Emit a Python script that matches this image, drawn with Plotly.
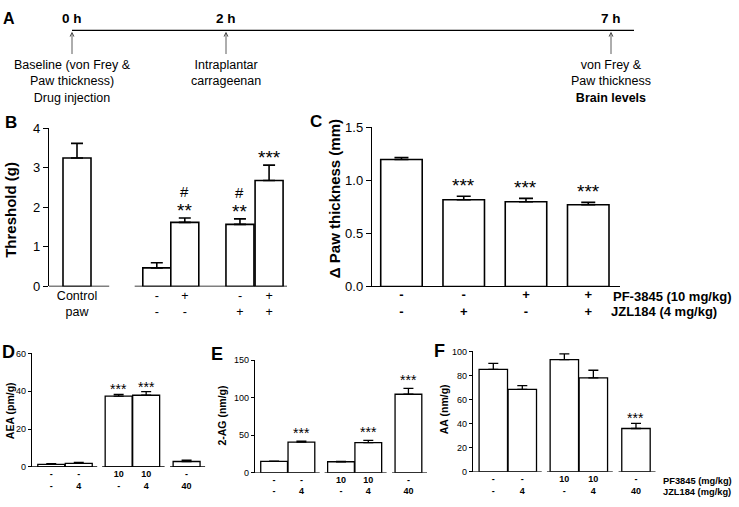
import plotly.graph_objects as go

# ---------------- data ----------------
timeline_hours = [0, 2, 7]
timeline_labels = ["0 h", "2 h", "7 h"]
timeline_events = [
    "Baseline (von Frey &amp;<br>Paw thickness)<br>Drug injection",
    "Intraplantar<br>carrageenan",
    "von Frey &amp;<br>Paw thickness<br><b>Brain levels</b>",
]

b_groups = ["Control<br>paw", "-<br>-", "+<br>-", "-<br>+", "+<br>+"]
b_threshold = [3.25, 0.47, 1.62, 1.57, 2.68]
b_err = [0.37, 0.13, 0.11, 0.14, 0.39]
b_sig = ["", "", "**", "**", "***"]
b_hash = ["", "", "#", "#", ""]

c_pf = ["-", "-", "+", "+"]
c_jzl = ["-", "+", "-", "+"]
c_thickness = [1.197, 0.817, 0.799, 0.771]
c_err = [0.018, 0.034, 0.031, 0.022]
c_sig = ["", "***", "***", "***"]

def_pf = ["-", "-", "10", "10", "-"]
def_jzl = ["-", "4", "-", "4", "40"]
d_aea = [1.4, 1.9, 37.4, 37.9, 2.9]
d_err = [0.3, 0.5, 1.0, 1.9, 0.7]
d_sig = ["", "", "***", "***", ""]
e_2ag = [15.1, 41.0, 14.7, 40.1, 104.7]
e_err = [0.4, 1.2, 0.4, 3.0, 7.8]
e_sig = ["", "***", "", "***", "***"]
f_aa = [85.1, 68.5, 93.3, 78.0, 36.0]
f_err = [5.0, 3.2, 4.8, 6.4, 4.3]
f_sig = ["", "", "", "", "***"]

# ---------------- layout helpers ----------------
W, H = 739, 507
FONT = "Liberation Sans, Arial, sans-serif"


def px(x):
    return x / W


def py(y):
    return 1 - y / H


fig = go.Figure()
annotations = []
shapes = []
layout_axes = {}


def names(n):
    return ("x" if n == 1 else f"x{n}"), ("y" if n == 1 else f"y{n}")


def lname(a):
    return a[0] + "axis" + a[1:]


def panel(n, xdom, ydom, xrange, yrange, positions, values, errs, ticktext,
          yticks, xfont, yfont, bar_w, lw, cap, ticklen, xline=False, yfmt=None,
          standoff=0):
    xa, ya = names(n)
    fig.add_trace(go.Bar(
        x=positions, y=values, width=bar_w, xaxis=xa, yaxis=ya,
        marker=dict(color="white", line=dict(color="black", width=lw)),
        error_y=dict(type="data", symmetric=False, array=errs,
                     arrayminus=[0] * len(errs), color="black",
                     thickness=lw, width=cap),
        showlegend=False, hoverinfo="skip"))
    layout_axes[lname(xa)] = dict(
        domain=[px(xdom[0]), px(xdom[1])], range=xrange, anchor=ya,
        tickmode="array", tickvals=positions, ticktext=ticktext,
        tickfont=xfont, ticks="", showline=xline, linecolor="black",
        linewidth=1.4, showgrid=False, zeroline=False, fixedrange=True,
        ticklabelstandoff=standoff)
    yax = dict(
        domain=[py(ydom[0]), py(ydom[1])], range=yrange, anchor=xa,
        tickmode="array", tickvals=yticks, tickfont=yfont,
        ticks="outside", ticklen=ticklen, tickwidth=1.2, tickcolor="black",
        showline=True, linecolor="black", linewidth=1.4,
        showgrid=False, zeroline=False, fixedrange=True)
    if yfmt:
        yax["tickformat"] = yfmt
    layout_axes[lname(ya)] = yax


def segments(n, positions, groups, xrange, padl, padr, lw=1.4):
    xa, ya = names(n)
    for i, g in enumerate(groups):
        a = xrange[0] if i == 0 else positions[g[0]] - padl
        b = xrange[1] if i == len(groups) - 1 else positions[g[-1]] + padr
        shapes.append(dict(type="line", xref=xa, yref=ya, x0=a, x1=b, y0=0, y1=0,
                           line=dict(color="black", width=lw)))


def sig(n, positions, values, errs, texts, size, yshift):
    xa, ya = names(n)
    for p, v, e, t in zip(positions, values, errs, texts):
        if t:
            annotations.append(dict(x=p, y=v + e, xref=xa, yref=ya, text=t,
                                    showarrow=False, yanchor="bottom",
                                    yshift=yshift,
                                    font=dict(family=FONT, size=size, color="black")))


def ptext(x, y, text, size, bold=False, angle=0, xanchor="center", yanchor="middle"):
    annotations.append(dict(x=px(x), y=py(y), xref="paper", yref="paper",
                            text=f"<b>{text}</b>" if bold else text,
                            showarrow=False, textangle=angle, xanchor=xanchor,
                            yanchor=yanchor,
                            font=dict(family=FONT, size=size, color="black")))


# ---------------- Panel B ----------------
pos_b = [0, 2.85, 3.85, 5.82, 6.86]
rng_b = [-1, 7.5]
panel(1, [49, 287], [288, 125], rng_b, [0, 4], pos_b, b_threshold, b_err,
      b_groups, [0, 1, 2, 3, 4], dict(family=FONT, size=12.5, color="black"),
      dict(family=FONT, size=13, color="black"), 1, 1.6, 6, 5)
segments(1, pos_b, [[0], [1, 2, 3, 4]], rng_b, 0.79, 1.15)
sig(1, pos_b, b_threshold, b_err, b_sig, 19, -5)
sig(1, pos_b, b_threshold, b_err, b_hash, 15, 16)

# ---------------- Panel C ----------------
pos_c = [0, 1.5, 3.0, 4.5]
rng_c = [-0.71, 5.265]
c_ticks = [f"<b>{a}</b><br><b>{b}</b>" for a, b in zip(c_pf, c_jzl)]
panel(2, [372, 620], [288, 124], rng_c, [0, 1.5], pos_c, c_thickness, c_err,
      c_ticks, [0, 0.5, 1.0, 1.5], dict(family=FONT, size=13, color="black"),
      dict(family=FONT, size=13, color="black"), 1, 1.6, 7, 5, xline=True, yfmt=".1f",
      standoff=-4)
sig(2, pos_c, c_thickness, c_err, c_sig, 19, -2)

# ---------------- Panels D, E, F ----------------
pos_def = [0, 1.0, 2.45, 3.45, 4.92]
rng_def = [-0.7, 5.6]
groups_def = [[0, 1], [2, 3], [4]]
def_ticks = [f"<b>{a}</b><br><b>{b}</b>" for a, b in zip(def_pf, def_jzl)]
small_x = dict(family=FONT, size=9, color="black")
small_y = dict(family=FONT, size=9, color="black")

panel(3, [32, 205.3], [474, 357], rng_def, [0, 60], pos_def, d_aea, d_err,
      def_ticks, [0, 20, 40, 60], small_x, small_y, 0.98, 1.3, 5, 3)
segments(3, pos_def, groups_def, rng_def, 0.6, 0.67, 1.3)
sig(3, pos_def, d_aea, d_err, d_sig, 14, -5)

panel(4, [255, 427], [480, 364], rng_def, [0, 150], pos_def, e_2ag, e_err,
      def_ticks, [0, 50, 100, 150], small_x, small_y, 0.98, 1.3, 5, 3)
segments(4, pos_def, groups_def, rng_def, 0.6, 0.67, 1.3)
sig(4, pos_def, e_2ag, e_err, e_sig, 14, -2)

panel(5, [473, 655.7], [479, 355], rng_def, [0, 100], pos_def, f_aa, f_err,
      def_ticks, [0, 20, 40, 60, 80, 100], small_x, small_y, 0.98, 1.3, 5, 3)
segments(5, pos_def, groups_def, rng_def, 0.6, 0.67, 1.3)
sig(5, pos_def, f_aa, f_err, f_sig, 14, -5)

# ---------------- Panel A (timeline) ----------------
t_end = 7.3
fig.add_trace(go.Scatter(x=timeline_hours, y=[24] * len(timeline_hours),
                         xaxis="x6", yaxis="y6", mode="markers",
                         marker=dict(opacity=0), showlegend=False,
                         hoverinfo="skip"))
layout_axes["xaxis6"] = dict(domain=[px(72), px(72 + t_end * 77)], range=[0, t_end],
                             anchor="y6", visible=False, fixedrange=True)
layout_axes["yaxis6"] = dict(domain=[py(105), 1], range=[105, 0], anchor="x6",
                             visible=False, fixedrange=True)
shapes.append(dict(type="line", xref="x6", yref="y6", x0=0, x1=t_end, y0=24, y1=24,
                   line=dict(color="black", width=1.3)))
for t, lab, ev in zip(timeline_hours, timeline_labels, timeline_events):
    annotations.append(dict(x=t, y=25.5, ax=t, ay=50, xref="x6", yref="y6",
                            axref="x6", ayref="y6", text="", showarrow=True,
                            arrowhead=5, arrowsize=1, arrowwidth=0.8,
                            arrowcolor="#333"))
    annotations.append(dict(x=t, y=12, xref="x6", yref="y6", text=f"<b>{lab}</b>",
                            showarrow=False,
                            font=dict(family=FONT, size=13.5, color="black")))
    annotations.append(dict(x=t, y=50, xref="x6", yref="y6", text=ev,
                            showarrow=False, yanchor="top",
                            font=dict(family=FONT, size=12.5, color="black")))

# ---------------- titles, letters, row labels ----------------
ptext(11, 209, "Threshold (g)", 15, bold=True, angle=-90)
ptext(334, 198, "Δ Paw thickness (mm)", 15, bold=True, angle=-90)
ptext(9.5, 416, "AEA (pm/g)", 10.5, bold=True, angle=-90)
ptext(222, 421, "2-AG (nm/g)", 10.5, bold=True, angle=-90)
ptext(443.5, 415, "AA (nm/g)", 10.5, bold=True, angle=-90)

ptext(9, 12, "A", 16, bold=True)
ptext(11, 119, "B", 17, bold=True)
ptext(316, 118, "C", 17, bold=True)
ptext(8.5, 356, "D", 18, bold=True)
ptext(217, 358, "E", 18, bold=True)
ptext(439, 354, "F", 18, bold=True)

ptext(611, 298, "PF-3845 (10 mg/kg)", 13, bold=True, xanchor="left")
ptext(609, 314, "JZL184 (4 mg/kg)", 13, bold=True, xanchor="left")
ptext(661, 488, "PF3845 (mg/kg)", 9.3, bold=True, xanchor="left")
ptext(661, 500, "JZL184 (mg/kg)", 9.3, bold=True, xanchor="left")

fig.update_layout(
    width=W, height=H, autosize=False,
    margin=dict(l=0, r=0, t=0, b=0),
    paper_bgcolor="white", plot_bgcolor="rgba(0,0,0,0)",
    font=dict(family=FONT, color="black"),
    annotations=annotations, shapes=shapes, showlegend=False,
    **layout_axes,
)

fig.write_html("out.html", config={"displayModeBar": False},
               post_script="document.body.style.margin='0';")
